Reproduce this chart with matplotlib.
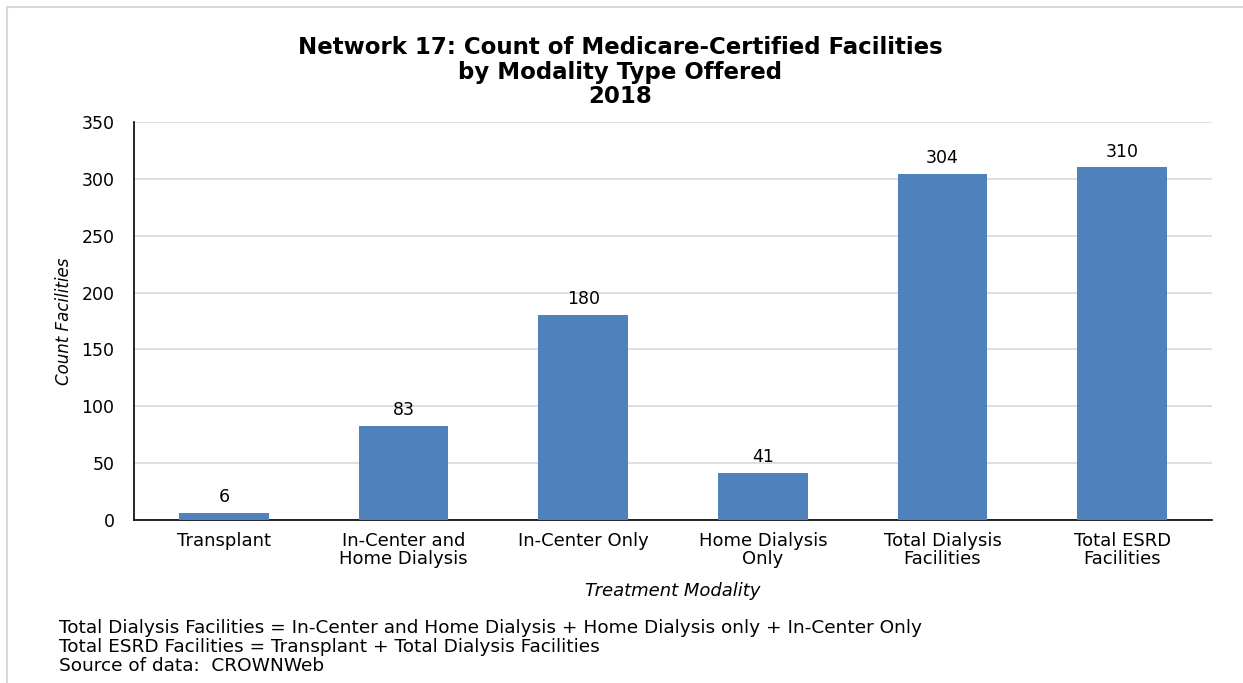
import matplotlib.pyplot as plt
from matplotlib.lines import Line2D

plt.rcParams['font.family'] = ['DejaVu Sans']

# data
categories = ["Transplant", "In-Center and\nHome Dialysis", "In-Center Only",
              "Home Dialysis\nOnly", "Total Dialysis\nFacilities", "Total ESRD\nFacilities"]
counts = [6, 83, 180, 41, 304, 310]
y_ticks = [0, 50, 100, 150, 200, 250, 300, 350]
notes = [
    "Total Dialysis Facilities = In-Center and Home Dialysis + Home Dialysis only + In-Center Only",
    "Total ESRD Facilities = Transplant + Total Dialysis Facilities",
    "Source of data:  CROWNWeb",
]

W, H = 1243, 683
fig = plt.figure(figsize=(W / 100, H / 100), dpi=100)
ax = fig.add_axes([134 / W, 1 - 520 / H, (1212 - 134) / W, (520 - 122) / H])

# light gray frame (top and left edges)
fig.add_artist(Line2D([7 / W, 7 / W], [0, 1 - 7 / H], transform=fig.transFigure,
                      color="#d9d9d9", linewidth=1.5))
fig.add_artist(Line2D([7 / W, 1], [1 - 7 / H, 1 - 7 / H], transform=fig.transFigure,
                      color="#d9d9d9", linewidth=1.5))

x = range(len(categories))
ax.bar(x, counts, width=0.5, color="#4f81bd", zorder=3)
for xi, v in zip(x, counts):
    ax.annotate(str(v), (xi, v), xytext=(0, 5), textcoords="offset points",
                ha="center", va="bottom", fontsize=12.5)

ax.set_xlim(-0.5, len(categories) - 0.5)
ax.set_ylim(0, 350)
ax.set_yticks(y_ticks)
ax.set_xticks(list(x))
ax.set_xticklabels(categories, fontsize=13, linespacing=0.98)
ax.tick_params(axis="y", labelsize=12.5, length=0, pad=14)
ax.tick_params(axis="x", length=0, pad=9)
ax.grid(axis="y", color="#d9d9d9", linewidth=1.2, zorder=0)
for s in ["top", "right"]:
    ax.spines[s].set_visible(False)
ax.spines["left"].set_linewidth(1.2)
ax.spines["bottom"].set_linewidth(1.2)

ax.set_ylabel("Count Facilities", fontsize=12, style="italic", labelpad=6)
ax.set_xlabel("Treatment Modality", fontsize=13, style="italic", labelpad=10)

fig.text(620 / W, 1 - 72 / H, "Network 17: Count of Medicare-Certified Facilities\nby Modality Type Offered\n2018",
         ha="center", va="center", fontsize=16.5, fontweight="bold", linespacing=1.1)

for i, line in enumerate(notes):
    fig.text(59 / W, 1 - (628 + 19 * i) / H, line, ha="left", va="center", fontsize=13.3)

fig.savefig("out.png", dpi=100)
